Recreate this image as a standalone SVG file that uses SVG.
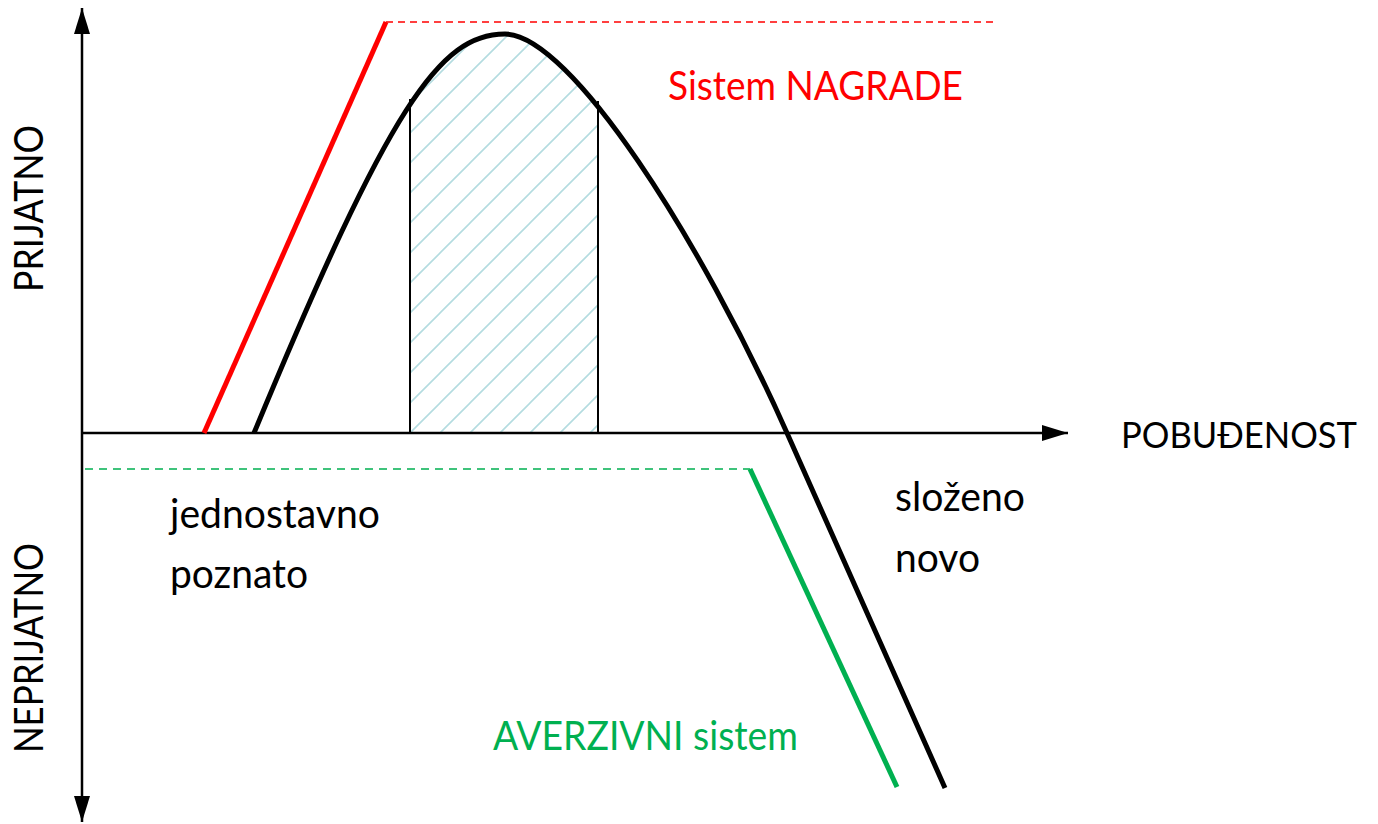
<svg xmlns="http://www.w3.org/2000/svg" width="1378" height="824" viewBox="0 0 1378 824">
<style>
text{font-family:Lato,"Open Sans","Liberation Sans",sans-serif;font-size:40px}
.blk{fill:#000}
.red{fill:#ff0000}
.grn{fill:#00b050}
.axis{stroke:#000;stroke-width:2.5;fill:none}
.thick{stroke-width:5;fill:none;stroke-linecap:butt}
</style>
<defs>
<marker id="arr" viewBox="0 0 26 16" refX="26" refY="8" markerWidth="26" markerHeight="16" markerUnits="userSpaceOnUse" orient="auto-start-reverse">
<path d="M0,0 L26,8 L0,16 z" fill="#000"/>
</marker>
<pattern id="hatch" patternUnits="userSpaceOnUse" x="410" y="433" width="30" height="30">
<path d="M0,30 L30,0 M-3,3 L3,-3 M27,33 L33,27" stroke="#b4dce0" stroke-width="1.6"/>
</pattern>
<clipPath id="under">
<path d="M254,433 C390,105 440,34 505,34 C570,34 701,240 787,433 Z"/>
</clipPath>
</defs>
<rect width="1378" height="824" fill="#fff"/>
<g id="hatched-zone">
<rect x="410" y="20" width="188" height="413" fill="url(#hatch)" clip-path="url(#under)"/>
<line x1="410" y1="433" x2="410" y2="99" stroke="#000" stroke-width="2"/>
<line x1="598" y1="433" x2="598" y2="101" stroke="#000" stroke-width="2"/>
</g>
<g id="connectors">
<line id="y-axis" class="axis" x1="82" y1="8" x2="82" y2="822" marker-start="url(#arr)" marker-end="url(#arr)"/>
<line id="x-axis" class="axis" x1="82" y1="433" x2="1068" y2="433" marker-end="url(#arr)"/>
</g>
<g id="reward-system">
<polyline class="thick" stroke="#ff0000" points="204,433 386,22"/>
<line x1="386" y1="22" x2="995" y2="22" stroke="#ff0000" stroke-width="1.5" stroke-dasharray="7 5"/>
<text class="red" x="668" y="100" textLength="295" lengthAdjust="spacingAndGlyphs">Sistem NAGRADE</text>
</g>
<g id="curve">
<path class="thick" stroke="#000" d="M254,433 C390,105 440,34 505,34 C570,34 701,240 787,433 L945,788"/>
</g>
<g id="aversive-system">
<line x1="85" y1="469" x2="750" y2="469" stroke="#00b050" stroke-width="1.5" stroke-dasharray="8 6"/>
<polyline class="thick" stroke="#00b050" points="750,469 897,787"/>
<text class="grn" x="493" y="750" textLength="305" lengthAdjust="spacingAndGlyphs">AVERZIVNI sistem</text>
</g>
<g id="labels">
<text class="blk" x="1121" y="448" font-size="37" style="font-size:37px" textLength="236" lengthAdjust="spacingAndGlyphs">POBUĐENOST</text>
<text class="blk" x="170" y="528" textLength="210" lengthAdjust="spacingAndGlyphs">jednostavno</text>
<text class="blk" x="170" y="588" textLength="138" lengthAdjust="spacingAndGlyphs">poznato</text>
<text class="blk" x="895" y="511" textLength="130" lengthAdjust="spacingAndGlyphs">složeno</text>
<text class="blk" x="895" y="572" textLength="85" lengthAdjust="spacingAndGlyphs">novo</text>
<text class="blk" transform="translate(43,292) rotate(-90)" x="0" y="0" textLength="167" lengthAdjust="spacingAndGlyphs">PRIJATNO</text>
<text class="blk" transform="translate(43,753) rotate(-90)" x="0" y="0" textLength="210" lengthAdjust="spacingAndGlyphs">NEPRIJATNO</text>
</g>
</svg>
